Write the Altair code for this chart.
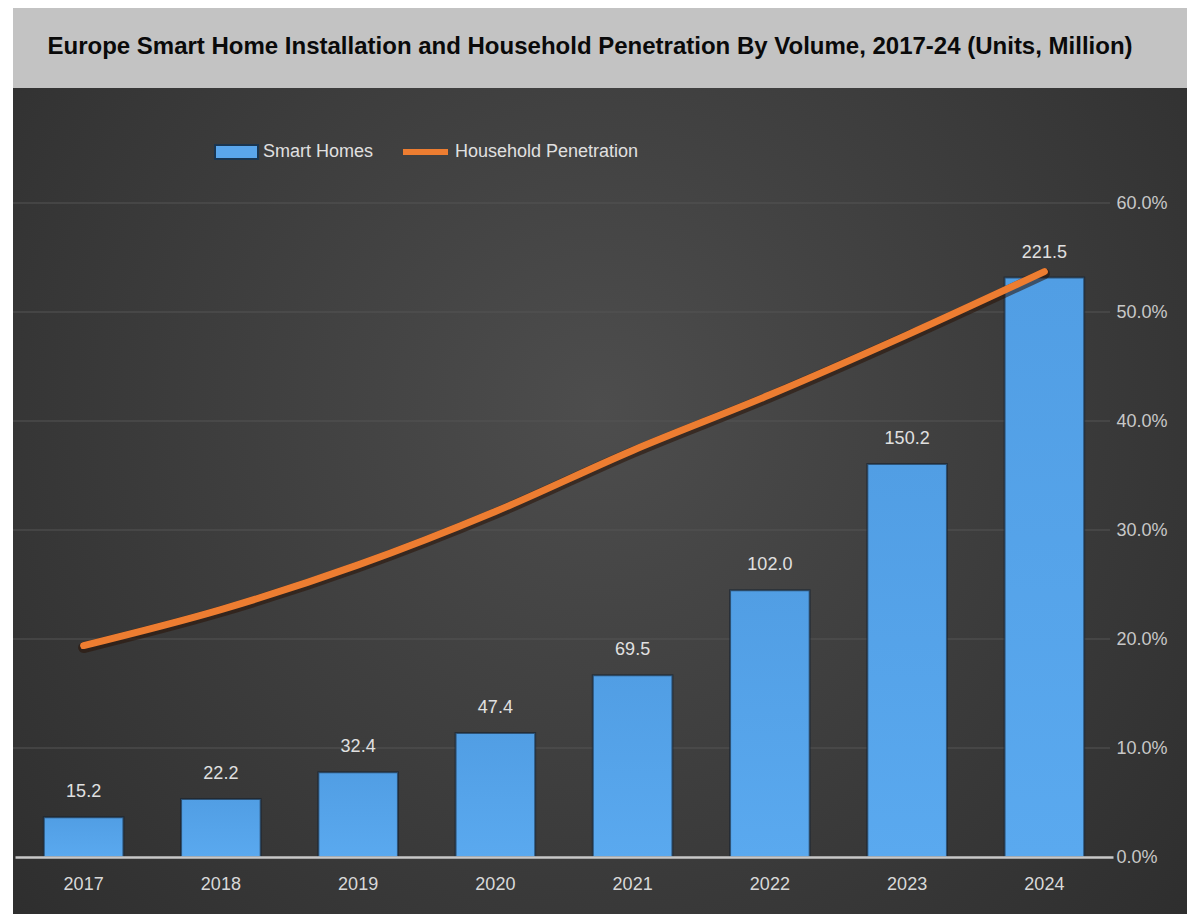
import altair as alt
import pandas as pd

years = ["2017", "2018", "2019", "2020", "2021", "2022", "2023", "2024"]
smart_homes = [15.2, 22.2, 32.4, 47.4, 69.5, 102.0, 150.2, 221.5]
penetration = [0.194, 0.227, 0.268, 0.317, 0.373, 0.424, 0.479, 0.537]
pct_ticks = [0.0, 0.1, 0.2, 0.3, 0.4, 0.5, 0.6]

title_text = "Europe Smart Home Installation and Household Penetration By Volume, 2017-24 (Units, Million)"
legend_bar = "Smart Homes"
legend_line = "Household Penetration"

FONT = "Liberation Sans"
W, H = 1098, 654
PAD = {"left": 15, "top": 203, "right": 74, "bottom": 57}

df = pd.DataFrame({"year": years, "homes": smart_homes, "pen": penetration})
grid_df = pd.DataFrame({"p": pct_ticks})
one = pd.DataFrame({"k": [0]})

x_enc = alt.X("year:N", sort=years,
              scale=alt.Scale(paddingInner=0.42, paddingOuter=0.21),
              axis=alt.Axis(title=None, labelAngle=0, labelFontSize=18, labelFont=FONT,
                            labelColor="#d9d9d9", labelPadding=18, ticks=False,
                            domainColor="#c8c8c8", domainWidth=2.5, zindex=1))

y_bar = alt.Y("homes:Q", scale=alt.Scale(domain=[0, 250], nice=False, zero=True), axis=None)
y_pct_noaxis = alt.Y("p:Q", scale=alt.Scale(domain=[0, 0.6], nice=False), axis=None)

# background panels
bg = alt.Chart(one).mark_rect(
    fill=alt.Gradient(gradient="radial", x1=0.5, y1=0.42, r1=0.0, x2=0.5, y2=0.42, r2=0.75,
                      stops=[alt.GradientStop(color="#4d4d4d", offset=0),
                             alt.GradientStop(color="#2a2a2a", offset=1)])
).encode(x=alt.value(-2), x2=alt.value(W + 74), y=alt.value(-115), y2=alt.value(H + 57))

title_bar = alt.Chart(one).mark_rect(color="#c3c3c3").encode(
    x=alt.value(-2), x2=alt.value(W + 74), y=alt.value(-195), y2=alt.value(-115))

title = alt.Chart(pd.DataFrame({"t": [title_text]})).mark_text(
    font=FONT, fontSize=24, fontWeight="bold", color="#0a0a0a", align="center", baseline="middle"
).encode(x=alt.value(575), y=alt.value(-156), text="t:N")

grid = alt.Chart(grid_df).transform_filter("datum.p > 0").mark_rule(
    color="#555555", strokeWidth=1
).encode(y=y_pct_noaxis, x=alt.value(-2), x2=alt.value(W - 3))

bars = alt.Chart(df).mark_bar(
    fill=alt.Gradient(gradient="linear", x1=0, y1=0, x2=0, y2=1,
                      stops=[alt.GradientStop(color="#519ee4", offset=0),
                             alt.GradientStop(color="#5aa9ef", offset=1)]),
    stroke="#16222f", strokeWidth=2, strokeOpacity=0.6
).encode(x=x_enc, y=y_bar)

bar_labels = alt.Chart(df).mark_text(
    font=FONT, fontSize=18, color="#e0e0e0", baseline="bottom", dy=-16
).encode(x=alt.X("year:N", sort=years), y=y_bar, text=alt.Text("homes:Q", format=".1f"))

line_shadow = alt.Chart(df).mark_line(
    color="#2a1206", strokeWidth=11, opacity=0.55, strokeCap="round", yOffset=2,
    interpolate="monotone"
).encode(x=alt.X("year:N", sort=years),
         y=alt.Y("pen:Q", scale=alt.Scale(domain=[0, 0.6], nice=False), axis=None))

line = alt.Chart(df).mark_line(
    color="#ed7d31", strokeWidth=7, strokeCap="round", interpolate="monotone"
).encode(
    x=alt.X("year:N", sort=years),
    y=alt.Y("pen:Q", scale=alt.Scale(domain=[0, 0.6], nice=False),
            axis=alt.Axis(orient="right", values=pct_ticks, format=".1%", title=None,
                          labelFont=FONT, labelFontSize=18, labelColor="#c8c8c8",
                          labelPadding=3, ticks=False, domain=False, grid=False, zindex=1))
)

# legend
leg_swatch = alt.Chart(one).mark_rect(color="#5aa6ec", stroke="#1a3550", strokeWidth=2).encode(
    x=alt.value(200), x2=alt.value(243), y=alt.value(-58), y2=alt.value(-44))
leg_swatch_text = alt.Chart(pd.DataFrame({"t": [legend_bar]})).mark_text(
    font=FONT, fontSize=18, color="#e0e0e0", align="left", baseline="middle"
).encode(x=alt.value(248), y=alt.value(-51), text="t:N")
leg_line = alt.Chart(one).mark_rule(color="#ed7d31", strokeWidth=6).encode(
    x=alt.value(388), x2=alt.value(433), y=alt.value(-51))
leg_line_text = alt.Chart(pd.DataFrame({"t": [legend_line]})).mark_text(
    font=FONT, fontSize=18, color="#e0e0e0", align="left", baseline="middle"
).encode(x=alt.value(440), y=alt.value(-51), text="t:N")

chart = alt.layer(
    bg, title_bar, title, grid, bars, bar_labels, line_shadow, line,
    leg_swatch, leg_swatch_text, leg_line, leg_line_text
).resolve_scale(y="independent").properties(
    width=W, height=H, padding=PAD, autosize=alt.AutoSizeParams(type="none"),
    background="white"
).configure_view(stroke=None)

chart.save("out.html", embed_options={"renderer": "svg", "actions": False})
